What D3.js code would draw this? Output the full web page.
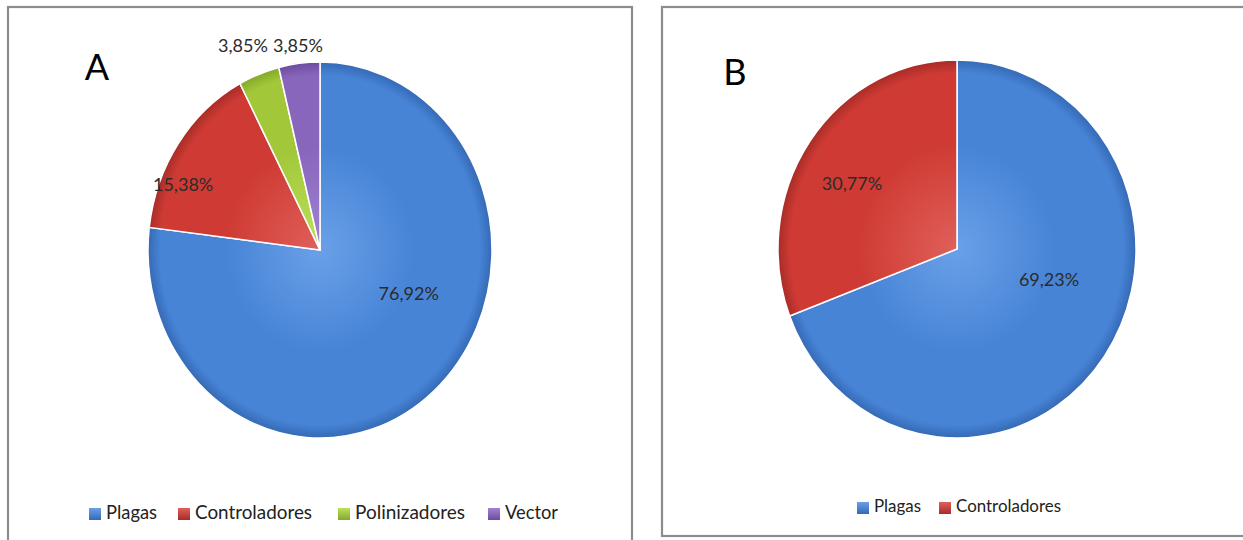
<!DOCTYPE html>
<html>
<head>
<meta charset="utf-8">
<script src="https://cdn.jsdelivr.net/npm/d3@7"></script>
<style>
  html, body { margin: 0; padding: 0; background: #ffffff; }
  svg { display: block; }
</style>
</head>
<body>
<svg id="chart" width="1243" height="540"></svg>
<script>
// ---------- DATA ----------
const categoriesA = ["Plagas", "Controladores", "Polinizadores", "Vector"];
const valuesA = [76.92, 15.38, 3.85, 3.85];
const categoriesB = ["Plagas", "Controladores"];
const valuesB = [69.23, 30.77];
const panelLetters = ["A", "B"];

// ---------- STYLE / LAYOUT ----------
const colorBase = { "Plagas": "#4784d6", "Controladores": "#cf3b34", "Polinizadores": "#a2c83a", "Vector": "#8866bc" };
const colorLight = { "Plagas": "#6aa0e8", "Controladores": "#e0605a", "Polinizadores": "#bde05a", "Vector": "#a083d2" };
const colorDark = { "Plagas": "#3569b5", "Controladores": "#a82c27", "Polinizadores": "#84a82a", "Vector": "#6c4c9e" };

const svg = d3.select("#chart");
const defs = svg.append("defs");
Object.keys(colorBase).forEach(k => {
  const lg = defs.append("linearGradient").attr("id", "lg-" + k)
    .attr("x1", "0").attr("y1", "0").attr("x2", "0").attr("y2", "1");
  lg.append("stop").attr("offset", "0%").attr("stop-color", colorLight[k]);
  lg.append("stop").attr("offset", "100%").attr("stop-color", colorDark[k]);
});
function pieGradient(id, k, r) {
  const g = defs.append("radialGradient").attr("id", id)
    .attr("gradientUnits", "userSpaceOnUse").attr("cx", 0).attr("cy", 0).attr("r", r);
  g.append("stop").attr("offset", "0%").attr("stop-color", colorLight[k]);
  g.append("stop").attr("offset", "55%").attr("stop-color", colorBase[k]);
  g.append("stop").attr("offset", "93%").attr("stop-color", colorBase[k]);
  g.append("stop").attr("offset", "100%").attr("stop-color", colorDark[k]);
}

const panels = [
  { cats: categoriesA, vals: valuesA, letter: panelLetters[0],
    box: { x: 8, y: 7, w: 624, h: 545 },
    cx: 320, cy: 250, rx: 172, ry: 188,
    letterPos: [97, 80], letterSize: 36,
    labelOffsets: [[26, -32], [-59, -5], [null], [null]],
    outsideLabels: [[243, 47], [298, 47]],
    legendY: 514, legendSize: 20, squareSize: 12,
    legendX: [89, 178, 338, 488], legendTextW: [51, 117, 110, 53] },
  { cats: categoriesB, vals: valuesB, letter: panelLetters[1],
    box: { x: 662, y: 7, w: 600, h: 529 },
    cx: 957, cy: 249, rx: 179, ry: 189,
    letterPos: [735, 85], letterSize: 36,
    labelOffsets: [[11, -27], [-24, -5]],
    outsideLabels: [],
    legendY: 508, legendSize: 17.5, squareSize: 12,
    legendX: [857, 939], legendTextW: [47, 105] }
];

const fmt = v => d3.format(".2f")(v).replace(".", ",") + "%";

panels.forEach((p, pi) => {
  const g = svg.append("g");
  g.append("rect").attr("x", p.box.x).attr("y", p.box.y).attr("width", p.box.w).attr("height", p.box.h)
    .attr("fill", "#ffffff").attr("stroke", "#8c8c8c").attr("stroke-width", 2.2);

  g.append("text").attr("x", p.letterPos[0]).attr("y", p.letterPos[1])
    .attr("text-anchor", "middle").attr("font-family", "Lato, 'Open Sans', sans-serif")
    .attr("font-size", p.letterSize).attr("fill", "#000").text(p.letter);

  const pie = d3.pie().sort(null).value(d => d.v);
  const data = pie(p.cats.map((c, i) => ({ c, v: p.vals[i] })));
  const arc = d3.arc().innerRadius(0).outerRadius(p.ry);
  const sx = p.rx / p.ry;

  const pg = g.append("g").attr("transform", `translate(${p.cx},${p.cy}) scale(${sx},1)`);
  data.forEach(d => pieGradient(`pg-${pi}-${d.data.c}`, d.data.c, p.ry));
  pg.selectAll("path").data(data).join("path")
    .attr("d", arc)
    .attr("fill", d => `url(#pg-${pi}-${d.data.c})`)
    .attr("stroke", "#ffffff").attr("stroke-width", 1.5)
    .attr("vector-effect", "non-scaling-stroke");

  // labels
  const labelArc = d3.arc().innerRadius(p.ry * 0.55).outerRadius(p.ry * 0.55);
  let outIdx = 0;
  data.forEach((d, i) => {
    let x, y;
    const off = p.labelOffsets[i];
    if (off && off[0] !== null) {
      const c = labelArc.centroid(d);
      x = p.cx + c[0] * sx + off[0];
      y = p.cy + c[1] + off[1];
    } else {
      const o = p.outsideLabels[outIdx++];
      x = o[0]; y = o[1];
    }
    g.append("text").attr("x", x).attr("y", y).attr("text-anchor", "middle")
      .attr("dominant-baseline", "middle")
      .attr("font-family", "Lato, 'Open Sans', sans-serif").attr("font-size", 18)
      .attr("fill", "#2b2b2b").text(fmt(d.data.v));
  });

  // legend
  p.cats.forEach((c, i) => {
    const lx = p.legendX[i];
    g.append("rect").attr("x", lx).attr("y", p.legendY - p.squareSize / 2)
      .attr("width", p.squareSize).attr("height", p.squareSize)
      .attr("fill", `url(#lg-${c})`);
    g.append("text").attr("x", lx + p.squareSize + 5).attr("y", p.legendY).attr("dominant-baseline", "middle")
      .attr("font-family", "Lato, 'Open Sans', sans-serif").attr("font-size", p.legendSize)
      .attr("textLength", p.legendTextW[i]).attr("lengthAdjust", "spacingAndGlyphs")
      .attr("fill", "#222").text(c);
  });
});
</script>
</body>
</html>
